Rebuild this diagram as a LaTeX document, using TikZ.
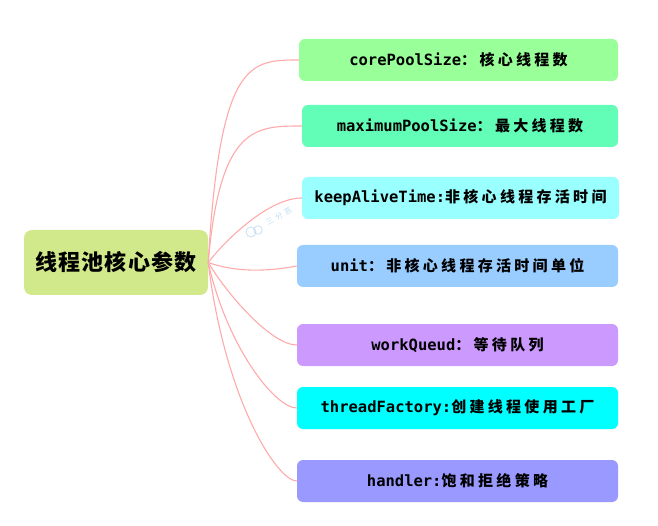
\documentclass[tikz,border=0pt]{standalone}
\usepackage{fontspec}
\newfontfamily\cjk{Noto Sans CJK SC}[LetterSpace=22]
\newfontfamily\cjkbig{Noto Sans CJK SC}[LetterSpace=6]
\newfontfamily\cjkwm{Noto Sans CJK SC}[LetterSpace=40]
\newfontfamily\lat{DejaVu Sans Mono}
\definecolor{ccenter}{HTML}{D1E98B}
\definecolor{cone}{HTML}{99FF99}
\definecolor{ctwo}{HTML}{62FDB6}
\definecolor{cthree}{HTML}{99FFFF}
\definecolor{cfour}{HTML}{99CCFF}
\definecolor{cfive}{HTML}{CC99FF}
\definecolor{csix}{HTML}{00FFFF}
\definecolor{cseven}{HTML}{9999FF}
\definecolor{cedge}{HTML}{FFAAAA}
\definecolor{cwm}{HTML}{BFDDF3}
\newcommand{\mylat}[1]{{\lat\bfseries\fontsize{15.5}{18}\selectfont #1}}
\newcommand{\myzh}[1]{{\cjk\bfseries\fontsize{15}{18}\selectfont #1}}
\tikzset{
  child/.style={rounded corners=6pt, inner sep=0pt, minimum height=42pt, text=black},
  centerbox/.style={rounded corners=8pt, inner sep=0pt, fill=ccenter, minimum width=184pt, minimum height=65pt,
    font=\cjkbig\bfseries\fontsize{22}{24}\selectfont},
  edge/.style={draw=cedge, line width=1.1pt},
}
\begin{document}
\begin{tikzpicture}[x=1pt,y=-1pt]
\useasboundingbox (0,0) rectangle (658,526);
\coordinate (wmicon) at (254,231);
\node[centerbox] (c) at (116,262.5) {线程池核心参数};
\node[child, fill=cone, minimum width=319pt] (b1) at (458.5,60) {\mylat{corePoolSize}\myzh{：核心线程数}};
\node[child, fill=ctwo, minimum width=316pt] (b2) at (460,126) {\mylat{maximumPoolSize}\myzh{：最大线程数}};
\node[child, fill=cthree, minimum width=317pt] (b3) at (460.5,198) {\mylat{keepAliveTime:}\myzh{非核心线程存活时间}};
\node[child, fill=cfour, minimum width=321pt] (b4) at (457.5,266) {\mylat{unit}\myzh{：非核心线程存活时间单位}};
\node[child, fill=cfive, minimum width=321pt] (b5) at (457.5,345) {\mylat{workQueud}\myzh{：等待队列}};
\node[child, fill=csix, minimum width=321pt] (b6) at (457.5,408) {\mylat{threadFactory:}\myzh{创建线程使用工厂}};
\node[child, fill=cseven, minimum width=321pt] (b7) at (457.5,481) {\mylat{handler:}\myzh{饱和拒绝策略}};
\draw[edge] (c.east) .. controls (220,60) and (250,60) .. (b1.west);
\draw[edge] (c.east) .. controls (220,126) and (255,126) .. (b2.west);
\draw[edge] (c.east) .. controls (228,237) and (270,198) .. (b3.west);
\draw[edge] (c.east) .. controls (235,272) and (265,272) .. (b4.west);
\draw[edge] (c.east) .. controls (229,297) and (272,345) .. (b5.west);
\draw[edge] (c.east) .. controls (227,347) and (275,408) .. (b6.west);
\draw[edge] (c.east) .. controls (225,400) and (277,481) .. (b7.west);
% watermark
\draw[cwm, line width=0.7pt] ([shift={(-3,1)}]wmicon) circle (5) ([shift={(4,-1)}]wmicon) circle (4.3);
\node[rotate=30, text=cwm, inner sep=0pt, font=\cjkwm\fontsize{7.5}{8}\selectfont] (wm) at (279,216) {三分恶};
\end{tikzpicture}
\end{document}
